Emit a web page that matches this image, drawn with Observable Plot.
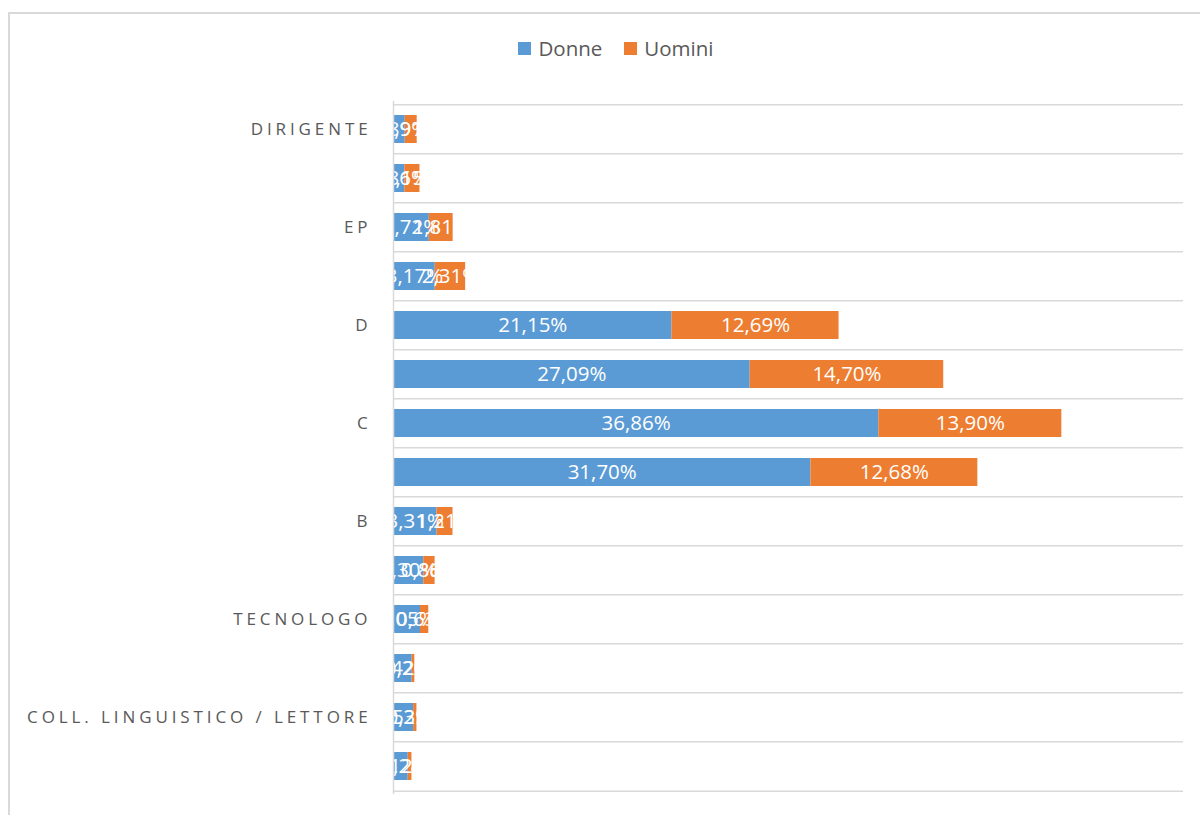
<!DOCTYPE html>
<html>
<head>
<meta charset="utf-8">
<script src="https://cdn.jsdelivr.net/npm/d3@7"></script>
<script src="https://cdn.jsdelivr.net/npm/@observablehq/plot@0.6"></script>
<style>
  body { margin: 0; background: #fff; }
  #wrap { position: relative; width: 1200px; height: 815px; overflow: hidden; font-family: "Open Sans", sans-serif; }
  #border { position: absolute; left: 8px; top: 12px; width: 1300px; height: 900px; border-left: 2px solid #d9d9d9; border-top: 2px solid #d9d9d9; }
  #legend { position: absolute; top: 34px; left: 16px; width: 1200px; display: flex; justify-content: center; gap: 22px; font-size: 20.5px; color: #595959; }
  #legend span.item { display: flex; align-items: center; gap: 7px; }
  #legend span.sw { display: inline-block; width: 13px; height: 13px; }
  #chart { position: absolute; left: 0; top: 0; }
  #chart svg text { letter-spacing: 0; }
  #chart g[aria-label="y-axis tick label"] text { letter-spacing: 3.9px; }
</style>
</head>
<body>
<div id="wrap">
  <div id="border"></div>
  <div id="chart"></div>
  <div id="legend"></div>
</div>
<script>
// Rows top-to-bottom; only every other row carries a visible category label
const rowLabels = ["DIRIGENTE", "", "EP", "", "D", "", "C", "", "B", "", "TECNOLOGO", "", "COLL. LINGUISTICO / LETTORE", ""];
const series = ["Donne", "Uomini"];
const colors = ["#5B9BD5", "#ED7D31"];
const donne  = [0.89, 0.86, 2.72, 3.17, 21.15, 27.09, 36.86, 31.70, 3.31, 2.30, 2.05, 1.42, 1.53, 1.12];
const uomini = [0.91, 1.15, 1.81, 2.31, 12.69, 14.70, 13.90, 12.68, 1.21, 0.86, 0.63, 0.20, 0.25, 0.28];

const rows = rowLabels.map((_, i) => i);
const data = [];
rows.forEach(i => {
  data.push({row: i, sex: "Donne", value: donne[i]});
  data.push({row: i, sex: "Uomini", value: uomini[i]});
});
const fmt = v => v.toFixed(2).replace(".", ",") + "%";

const marginTop = 101, marginBottom = 21;
const height = 815;
const half = (height - marginTop - marginBottom) / rows.length / 2;

const chart = Plot.plot({
  width: 1200,
  height,
  marginTop,
  marginBottom,
  marginLeft: 393,
  marginRight: 17,
  style: {fontFamily: "Open Sans, sans-serif", background: "transparent"},
  x: {domain: [0, 60], axis: null},
  y: {domain: rows, paddingInner: 0.43, paddingOuter: 0.215, label: null},
  color: {domain: series, range: colors},
  marks: [
    Plot.ruleY(rows, {y: d => d, dy: -half, stroke: "#d9d9d9", strokeWidth: 1.5}),
    Plot.ruleY([rows[rows.length - 1]], {y: d => d, dy: half, stroke: "#d9d9d9", strokeWidth: 1.5}),
    Plot.barX(data, Plot.stackX({x: "value", y: "row", fill: "sex", order: series})),
    Plot.text(data, Plot.stackX({x: "value", y: "row", z: "sex", order: series, text: d => fmt(d.value), fill: "white", fontSize: 20.5, clip: true})),
    Plot.ruleX([0], {stroke: "#d9d9d9", strokeWidth: 1.5}),
    Plot.axisY({tickSize: 0, tickPadding: 22, tickFormat: i => rowLabels[i], fontSize: 17, color: "#595959", label: null})
  ]
});
document.getElementById("chart").appendChild(chart);

const legend = document.getElementById("legend");
series.forEach((s, i) => {
  const item = document.createElement("span");
  item.className = "item";
  item.innerHTML = `<span class="sw" style="background:${colors[i]}"></span>${s}`;
  legend.appendChild(item);
});
</script>
</body>
</html>
